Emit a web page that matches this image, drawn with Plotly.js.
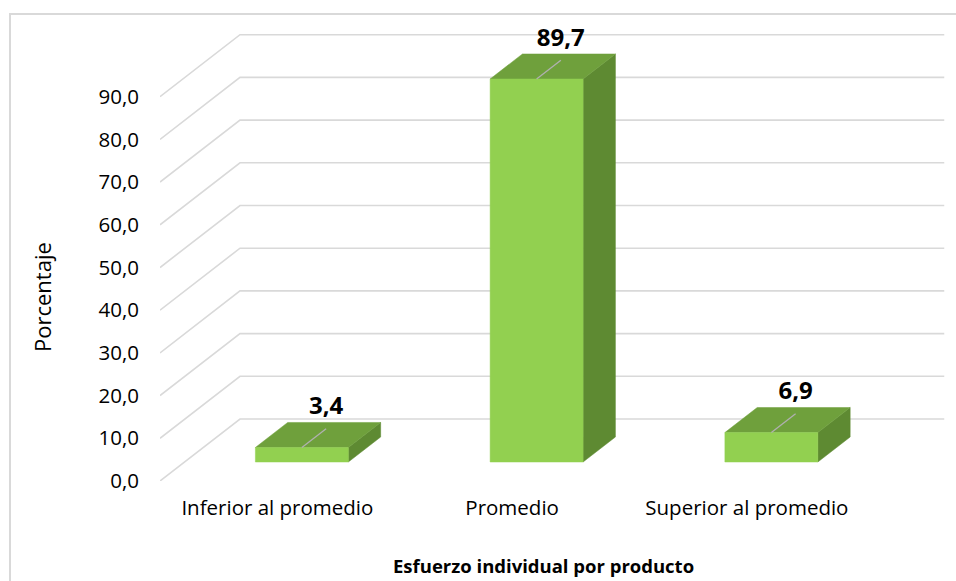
<!DOCTYPE html>
<html>
<head>
<meta charset="utf-8">
<script src="https://cdn.plot.ly/plotly-3.0.1.min.js"></script>
<style>
  html, body { margin: 0; padding: 0; background: #ffffff; }
  #wrap { position: relative; width: 956px; height: 581px; overflow: hidden; }
  #chart { width: 956px; height: 581px; }
  #frame { position: absolute; left: 9px; top: 13px; width: 2000px; height: 2000px;
           border-top: 2px solid #d9d9d9; border-left: 2px solid #d9d9d9; pointer-events: none; }
</style>
</head>
<body>
<div id="wrap">
  <div id="chart"></div>
  <div id="frame"></div>
</div>
<script>
// ---- data ----
const categories = ["Inferior al promedio", "Promedio", "Superior al promedio"];
const values = [3.4, 89.7, 6.9];
const valueLabels = ["3,4", "89,7", "6,9"];
const yTickVals = [0, 10, 20, 30, 40, 50, 60, 70, 80, 90];
const xTitle = "Esfuerzo individual por producto";
const yTitle = "Porcentaje";

// ---- oblique 3D projection (in axis units) ----
const DX = 0.3408;   // category units shift for full depth
const DY = 14.52;    // value units shift for full depth
const D0 = 0.306, D1 = 0.71;   // bar depth span
const HW = 0.198;              // bar half width (category units)
const LEAD = D0 + 0.75 * (D1 - D0);
const LABEL_LIFT = 2.0;        // gap between leader end and label (value units)
function P(c, v, d) { return [c + d * DX, v + d * DY]; }
function poly(pts) {
  const xs = pts.map(p => p[0]); const ys = pts.map(p => p[1]);
  xs.push(xs[0]); ys.push(ys[0]);
  return { x: xs, y: ys };
}

const traces = [];
const gridColor = "#d9d9d9";
const catMin = -0.5, catMax = categories.length - 0.5;

// gridlines (side wall + back wall)
yTickVals.forEach(t => {
  const a = P(catMin, t, 0), b = P(catMin, t, 1), c = P(catMax, t, 1);
  traces.push({
    type: "scatter", mode: "lines", x: [a[0], b[0], c[0]], y: [a[1], b[1], c[1]],
    line: { color: gridColor, width: 1.6 }, hoverinfo: "skip", showlegend: false, cliponaxis: false
  });
});

// bars
const frontCol = "#92d050", topCol = "#6fa03c", sideCol = "#5e8a32";
values.forEach((v, i) => {
  const side = poly([P(i + HW, 0, D0), P(i + HW, 0, D1), P(i + HW, v, D1), P(i + HW, v, D0)]);
  const top = poly([P(i - HW, v, D0), P(i + HW, v, D0), P(i + HW, v, D1), P(i - HW, v, D1)]);
  const front = poly([P(i - HW, 0, D0), P(i + HW, 0, D0), P(i + HW, v, D0), P(i - HW, v, D0)]);
  [[side, sideCol], [top, topCol], [front, frontCol]].forEach(([f, col]) => {
    traces.push({
      type: "scatter", mode: "lines", x: f.x, y: f.y, fill: "toself", fillcolor: col,
      line: { color: col, width: 0.5 }, hoverinfo: "skip", showlegend: false, cliponaxis: false
    });
  });
  // leader line
  const s = P(i, v, D0), e = P(i, v, LEAD);
  traces.push({
    type: "scatter", mode: "lines", x: [s[0], e[0]], y: [s[1], e[1]],
    line: { color: "#b0b0b0", width: 1.3 }, hoverinfo: "skip", showlegend: false, cliponaxis: false
  });
});

// data labels
traces.push({
  type: "scatter", mode: "text",
  x: values.map((v, i) => P(i, v, LEAD)[0]),
  y: values.map((v, i) => P(i, v, LEAD)[1] + LABEL_LIFT),
  text: valueLabels, textposition: "top center",
  textfont: { family: "Open Sans", size: 24, color: "#000000", weight: "bold" },
  hoverinfo: "skip", showlegend: false, cliponaxis: false
});

const layout = {
  width: 956, height: 581,
  margin: { l: 160, r: 11, t: 25, b: 100 },
  paper_bgcolor: "rgba(0,0,0,0)", plot_bgcolor: "rgba(0,0,0,0)",
  separators: ",.",
  font: { family: "Open Sans", color: "#000000", size: 20 },
  showlegend: false,
  xaxis: {
    range: [-0.5, -0.5 + 785 / 234.75],
    tickmode: "array", tickvals: categories.map((c, i) => i), ticktext: categories,
    showgrid: false, zeroline: false, showline: false, ticks: "",
    tickfont: { family: "Open Sans", size: 20.5, color: "#000000" },
    ticklabelstandoff: 12, fixedrange: true
  },
  yaxis: {
    range: [0, 456 / 4.27],
    tickmode: "array", tickvals: yTickVals, tickformat: ".1f",
    showgrid: false, zeroline: false, showline: false, ticks: "",
    tickfont: { family: "Open Sans", size: 20.5, color: "#000000" },
    ticklabelstandoff: 20, fixedrange: true
  },
  annotations: [
    { text: "<b>" + xTitle + "</b>", xref: "paper", yref: "paper",
      x: (543 - 160) / 785, y: (481 - 565) / 456, xanchor: "center", yanchor: "middle",
      showarrow: false, font: { family: "Open Sans", size: 18.5, color: "#000000" } },
    { text: yTitle, xref: "paper", yref: "paper", textangle: -90,
      x: (42 - 160) / 785, y: (481 - 297) / 456, xanchor: "center", yanchor: "middle",
      showarrow: false, font: { family: "Open Sans", size: 22, color: "#000000" } }
  ]
};

Plotly.newPlot("chart", traces, layout, { displayModeBar: false, staticPlot: true });
</script>
</body>
</html>
